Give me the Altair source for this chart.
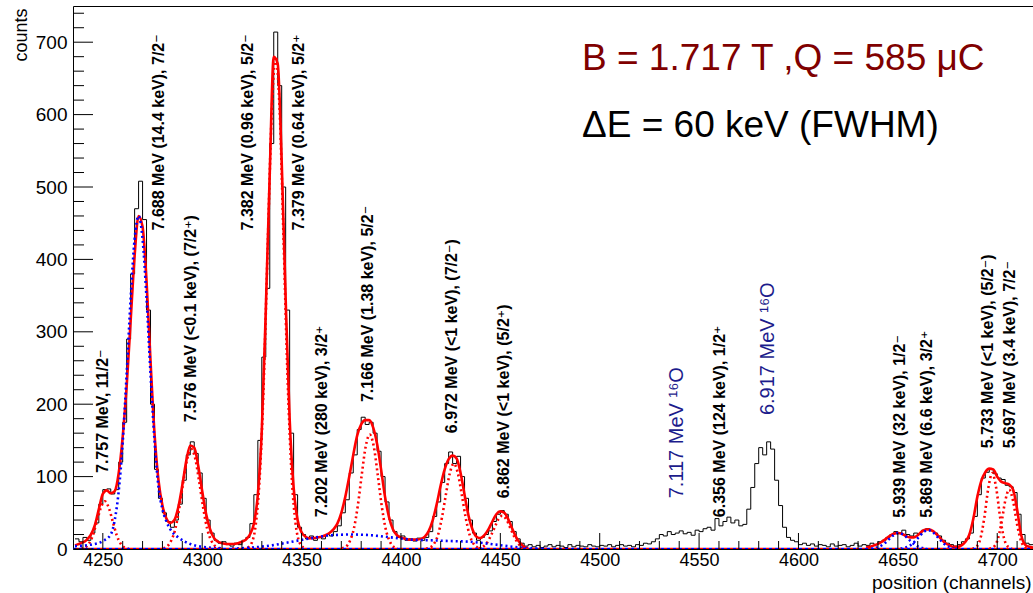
import altair as alt
import pandas as pd

FONT = "Liberation Sans, Arial, Helvetica, DejaVu Sans, sans-serif"
X_DOMAIN = [4235, 4718]
Y_DOMAIN = [0, 750]

# ---------------- histogram (2-channel bins, left edges from 4236) ----------------
hist_first_edge = 4236
hist_bin_width = 2
hist_counts = [
    14, 10, 16, 12, 22, 36, 62, 82, 83, 76,
    82, 120, 175, 290, 380, 470, 508, 455, 330, 200,
    110, 70, 50, 38, 30, 40, 62, 95, 130, 148,
    132, 105, 70, 40, 22, 12, 8, 10, 6, 4,
    8, 6, 12, 16, 35, 75, 150, 265, 360, 560,
    714, 640, 500, 330, 160, 75, 30, 20, 14, 18,
    12, 16, 14, 20, 18, 24, 32, 50, 68, 105,
    130, 165, 182, 172, 175, 160, 135, 100, 65, 40,
    24, 16, 18, 12, 14, 11, 15, 12, 16, 24,
    45, 65, 92, 118, 134, 118, 128, 100, 70, 40,
    22, 12, 16, 20, 25, 38, 48, 53, 48, 38,
    24, 14, 8, 4, 6, 3, 5, 2, 4, 6,
    3, 5, 4, 2, 6, 3, 5, 4, 3, 6,
    4, 3, 5, 4, 6, 3, 5, 6, 4, 5,
    3, 6, 5, 8, 7, 10, 14, 20, 18, 24,
    20, 22, 25, 21, 23, 19, 26, 24, 28, 30,
    26, 42, 32, 38, 44, 36, 40, 32, 34, 55,
    85, 118, 140, 130, 148, 138, 95, 60, 30, 16,
    12, 10, 6, 8, 5, 7, 4, 6, 5, 3,
    7, 4, 5, 6, 3, 5, 8, 4, 6, 5,
    8, 6, 10, 12, 16, 20, 24, 22, 26, 20,
    18, 22, 20, 26, 28, 25, 22, 18, 12, 8,
    6, 4, 6, 10, 14, 22, 45, 75, 98, 106,
    110, 104, 98, 96, 88, 86, 78, 48, 20, 8,
    6,
]

# ---------------- total fit (red solid), 2-channel sampling ----------------
fit_left_start = 4236
fit_left = [
    5, 7, 9, 13, 20, 33, 55, 76, 81, 77,
    80, 105, 155, 225, 315, 405, 460, 445, 370, 260,
    160, 95, 60, 42, 36, 40, 58, 88, 122, 143,
    140, 115, 80, 48, 27, 15, 10, 8, 7, 7,
    7, 8, 10, 13, 20, 35, 75, 165, 330, 520,
    680, 670, 535, 345, 180, 85, 40, 23, 17, 15,
    15, 16, 17, 19, 22, 27, 35, 50, 72, 100,
    130, 157, 172, 178, 178, 168, 145, 110, 72, 44,
    27, 19, 16, 14, 13, 13, 13, 14, 17, 25,
    40, 62, 88, 110, 124, 129, 125, 105, 75, 46,
    27, 17, 15, 19, 27, 38, 48, 52, 50, 41,
    28, 16, 8, 3, 1,
]
fit_right_start = 4634
fit_right = [
    2, 3, 5, 7, 10, 14, 18, 21, 22, 21,
    18, 16, 16, 19, 24, 27, 27, 24, 19, 13,
    8, 5, 3, 3, 5, 10, 20, 42, 72, 94,
    106, 111, 110, 100, 93, 91, 89, 82, 55, 20,
    6, 3, 2,
]
fit_step = 2

# ---------------- fit components (dotted) ----------------
c7757_ch = [4239, 4241, 4243, 4245, 4247, 4249, 4251, 4253, 4255, 4257, 4259, 4261, 4263]
c7757_c = [0.5, 2, 7.2, 19, 38, 57, 66, 57, 38, 19, 7.2, 2, 0.5]

c7688_ch = [4236, 4244, 4250, 4254, 4256, 4258, 4260, 4262, 4264, 4266, 4268, 4270,
            4272, 4274, 4276, 4278, 4280, 4282, 4284, 4288, 4294, 4300, 4310]
c7688_c = [4, 6, 11, 20, 40, 80, 147, 242, 346, 428, 460, 428,
           346, 242, 150, 86, 55, 38, 27, 16, 7, 3, 1]

c7576_ch = [4280.5, 4282.5, 4284.5, 4286.5, 4288.5, 4290.5, 4292.5, 4294.5,
            4296.5, 4298.5, 4300.5, 4302.5, 4304.5, 4306.5, 4308.5]
c7576_c = [1, 4, 12, 28, 57, 93, 125, 138, 125, 93, 57, 28, 12, 4, 1]

c7382_ch = [4323, 4325, 4327, 4329, 4331, 4333, 4335, 4337,
            4339, 4341, 4343, 4345, 4347, 4349, 4351]
c7382_c = [2, 9, 35, 102, 233, 422, 604, 680, 604, 422, 233, 102, 35, 9, 2]

c7202_ch = [4315, 4325, 4335, 4345, 4355, 4365, 4375, 4385, 4395,
            4405, 4415, 4425, 4435, 4445, 4455, 4465, 4475]
c7202_c = [0.5, 2, 5, 10, 15, 19, 20, 19, 16, 13, 12, 11, 10, 7, 3.5, 1, 0]

c7166_ch = [4370.3, 4372.3, 4374.3, 4376.3, 4378.3, 4380.3, 4382.3, 4384.3,
            4386.3, 4388.3, 4390.3, 4392.3, 4394.3, 4396.3, 4398.3]
c7166_c = [1, 3, 11, 28, 60, 103, 142, 158, 142, 103, 60, 28, 11, 3, 1]

c6972_ch = [4412.6, 4414.6, 4416.6, 4418.6, 4420.6, 4422.6, 4424.6, 4426.6,
            4428.6, 4430.6, 4432.6, 4434.6, 4436.6, 4438.6, 4440.6]
c6972_c = [0.5, 2, 7, 19, 43, 75, 105, 118, 105, 75, 43, 19, 7, 2, 0.5]

c6862_ch = [4439, 4441, 4443, 4445, 4447, 4449, 4451, 4453, 4455, 4457, 4459, 4461, 4463]
c6862_c = [0.8, 2.7, 7.5, 17, 29, 41, 46, 41, 29, 17, 7.5, 2.7, 0.8]

c5939_ch = [4636.5, 4638.5, 4640.5, 4642.5, 4644.5, 4646.5, 4648.5, 4650.5,
            4652.5, 4654.5, 4656.5, 4658.5, 4660.5, 4662.5, 4664.5]
c5939_c = [0.4, 1.2, 3, 6.1, 10.7, 16, 20.3, 22, 20.3, 16, 10.7, 6.1, 3, 1.2, 0.4]

c5869_ch = [4651.3, 4653.3, 4655.3, 4657.3, 4659.3, 4661.3, 4663.3, 4665.3,
            4667.3, 4669.3, 4671.3, 4673.3, 4675.3, 4677.3, 4679.3]
c5869_c = [0.5, 1.5, 3.5, 7.2, 12.7, 18.9, 24, 26, 24, 18.9, 12.7, 7.2, 3.5, 1.5, 0.5]

c5733_ch = [4687.5, 4689.5, 4691.5, 4693.5, 4695.5, 4697.5, 4699.5, 4701.5, 4703.5, 4705.5, 4707.5]
c5733_c = [0.4, 3, 14, 43, 84, 105, 84, 43, 14, 3, 0.4]

c5697_ch = [4696, 4698, 4700, 4702, 4704, 4706, 4708, 4710, 4712, 4714, 4716]
c5697_c = [0.3, 2.4, 11, 34, 66, 82, 66, 34, 11, 2.4, 0.3]

components = [
    ("7.757", "#ff0000", c7757_ch, c7757_c),
    ("7.688", "#0000ff", c7688_ch, c7688_c),
    ("7.576", "#ff0000", c7576_ch, c7576_c),
    ("7.382", "#ff0000", c7382_ch, c7382_c),
    ("7.202", "#0000ff", c7202_ch, c7202_c),
    ("7.166", "#ff0000", c7166_ch, c7166_c),
    ("6.972", "#ff0000", c6972_ch, c6972_c),
    ("6.862", "#ff0000", c6862_ch, c6862_c),
    ("5.939", "#0000ff", c5939_ch, c5939_c),
    ("5.869", "#0000ff", c5869_ch, c5869_c),
    ("5.733", "#ff0000", c5733_ch, c5733_c),
    ("5.697", "#ff0000", c5697_ch, c5697_c),
]

baseline_ch = [4235, 4718]
baseline_c = [0, 0]

# ---------------- annotations ----------------
ann_text = [
    "7.757 MeV, 11/2\u207b",
    "7.688 MeV (14.4 keV), 7/2\u207b",
    "7.576 MeV (<0.1 keV), (7/2\u207a)",
    "7.382 MeV (0.96 keV), 5/2\u207b",
    "7.379 MeV (0.64 keV), 5/2\u207a",
    "7.202 MeV (280 keV), 3/2\u207a",
    "7.166 MeV (1.38 keV), 5/2\u207b",
    "6.972 MeV (<1 keV), (7/2\u207b)",
    "6.862 MeV (<1 keV), (5/2\u207a)",
    "6.356 MeV (124 keV), 1/2\u207a",
    "5.939 MeV (32 keV), 1/2\u207b",
    "5.869 MeV (6.6 keV), 3/2\u207a",
    "5.733 MeV (<1 keV), (5/2\u207b)",
    "5.697 MeV (3.4 keV), 7/2\u207b",
]
ann_ch = [4250.1, 4278.3, 4294.4, 4323.0, 4348.7, 4360.3, 4383.4, 4425.7, 4451.8,
          4560.5, 4651.1, 4664.7, 4695.4, 4706.4]
ann_c = [105, 440, 175, 440, 440, 44, 203, 160, 70, 44, 43, 43, 139, 139]

o16_text = ["7.117 MeV \u00b9\u2076O", "6.917 MeV \u00b9\u2076O"]
o16_ch = [4538.9, 4584.7]
o16_c = [70, 185]

info_text = ["B = 1.717 T ,Q = 585 \u03bcC", "\u0394E = 60 keV (FWHM)"]
info_color = ["#800000", "#000000"]
info_ch = [4491.1, 4491.1]
info_c = [662, 569]

x_major = [4250, 4300, 4350, 4400, 4450, 4500, 4550, 4600, 4650, 4700]
x_minor = [4240, 4260, 4270, 4280, 4290, 4310, 4320, 4330, 4340, 4360, 4370, 4380, 4390,
           4410, 4420, 4430, 4440, 4460, 4470, 4480, 4490, 4510, 4520, 4530, 4540,
           4560, 4570, 4580, 4590, 4610, 4620, 4630, 4640, 4660, 4670, 4680, 4690, 4710]
y_major = [0, 100, 200, 300, 400, 500, 600, 700]
y_minor = [20, 40, 60, 80, 120, 140, 160, 180, 220, 240, 260, 280, 320, 340, 360, 380,
           420, 440, 460, 480, 520, 540, 560, 580, 620, 640, 660, 680, 720, 740]

# ---------------- data frames ----------------
hist_edges = [hist_first_edge + hist_bin_width * i for i in range(len(hist_counts))]
hist_df = pd.DataFrame({
    "ch": hist_edges + [hist_edges[-1] + hist_bin_width],
    "c": hist_counts + [hist_counts[-1]],
})

fit_rows = []
for seg, start, vals in [("L", fit_left_start, fit_left), ("R", fit_right_start, fit_right)]:
    for i, v in enumerate(vals):
        fit_rows.append({"seg": seg, "ch": start + fit_step * i, "c": v})
fit_df = pd.DataFrame(fit_rows)

comp_rows = []
for name, col, chs, cs in components:
    assert len(chs) == len(cs), name
    for a, b in zip(chs, cs):
        comp_rows.append({"comp": name, "col": col, "ch": a, "c": b})
comp_df = pd.DataFrame(comp_rows)
red_df = comp_df[comp_df["col"] == "#ff0000"]
blue_df = comp_df[comp_df["col"] == "#0000ff"]

base_df = pd.DataFrame({"ch": baseline_ch, "c": baseline_c})

# ---------------- encodings ----------------
x_axis = alt.Axis(values=x_major, format="d", labelFont=FONT, labelFontSize=18,
                  labelColor="black", labelPadding=2, ticks=False, domain=False,
                  grid=False, labelOverlap=False, labelFlush=False,
                  title="position (channels)", titleFont=FONT, titleFontSize=19,
                  titleFontWeight="normal", titleColor="black", titleX=958, titleY=39,
                  titleAlign="right", titleAnchor="end", titleBaseline="alphabetic")
y_axis = alt.Axis(values=y_major, format="d", labelFont=FONT, labelFontSize=19,
                  labelColor="black", labelPadding=6, ticks=False, domain=False,
                  grid=False, labelOverlap=False, labelFlush=False,
                  title="counts", titleFont=FONT, titleFontSize=18,
                  titleFontWeight="normal", titleColor="black", titleAngle=270,
                  titleAlign="right", titleAnchor="end", titleBaseline="middle",
                  titleX=-52, titleY=2)


def xenc():
    return alt.X("ch:Q", scale=alt.Scale(domain=X_DOMAIN, nice=False, zero=False), axis=x_axis)


def yenc():
    return alt.Y("c:Q", scale=alt.Scale(domain=Y_DOMAIN, nice=False, zero=False), axis=y_axis)


hist = alt.Chart(hist_df).mark_line(interpolate="step-after", color="black",
                                    strokeWidth=1, clip=True).encode(x=xenc(), y=yenc())

fit = alt.Chart(fit_df).mark_line(interpolate="monotone", color="#ff0000",
                                  strokeWidth=2.6, clip=True).encode(
    x=xenc(), y=yenc(), detail="seg:N")

red_comp = alt.Chart(red_df).mark_line(interpolate="monotone", color="#ff0000",
                                       strokeWidth=2.6, strokeDash=[2, 3], clip=True).encode(
    x=xenc(), y=yenc(), detail="comp:N")
blue_comp = alt.Chart(blue_df).mark_line(interpolate="monotone", color="#0000ff",
                                         strokeWidth=2.6, strokeDash=[2, 3], clip=True).encode(
    x=xenc(), y=yenc(), detail="comp:N")

base_blue = alt.Chart(base_df).mark_line(color="#0000ff", strokeWidth=2.6,
                                         strokeDash=[3, 3], clip=True).encode(x=xenc(), y=yenc())
base_red = alt.Chart(base_df).mark_line(color="#ff0000", strokeWidth=2.6,
                                        strokeDash=[3, 3], strokeDashOffset=3,
                                        clip=True).encode(x=xenc(), y=yenc())

ytick_major = alt.Chart(pd.DataFrame({"c": y_major})).mark_rule(color="black", strokeWidth=1).encode(
    y=yenc(), x=alt.value(0), x2=alt.value(20))
ytick_minor = alt.Chart(pd.DataFrame({"c": y_minor})).mark_rule(color="black", strokeWidth=1).encode(
    y=yenc(), x=alt.value(0), x2=alt.value(11))
xtick_major = alt.Chart(pd.DataFrame({"ch": x_major})).mark_rule(color="black", strokeWidth=1).encode(
    x=xenc(), y=alt.value(543), y2=alt.value(527))
xtick_minor = alt.Chart(pd.DataFrame({"ch": x_minor})).mark_rule(color="black", strokeWidth=1).encode(
    x=xenc(), y=alt.value(543), y2=alt.value(535))

ann = alt.Chart(pd.DataFrame({"ch": ann_ch, "c": ann_c, "t": ann_text})).mark_text(
    angle=270, align="left", baseline="middle", font=FONT, fontSize=16,
    fontWeight="bold", color="black").encode(x=xenc(), y=yenc(), text="t:N")

o16 = alt.Chart(pd.DataFrame({"ch": o16_ch, "c": o16_c, "t": o16_text})).mark_text(
    angle=270, align="left", baseline="middle", font=FONT, fontSize=20,
    fontWeight="normal", color="#1c1c8c").encode(x=xenc(), y=yenc(), text="t:N")

info = alt.Chart(pd.DataFrame({"ch": info_ch, "c": info_c, "t": info_text,
                               "col": info_color})).mark_text(
    align="left", baseline="alphabetic", font=FONT, fontSize=37).encode(
    x=xenc(), y=yenc(), text="t:N", color=alt.Color("col:N", scale=None))

chart = alt.layer(
    hist, fit, red_comp, blue_comp, base_blue, base_red,
    ytick_major, ytick_minor, xtick_major, xtick_minor,
    ann, o16, info,
).properties(
    width=960, height=543,
    autosize=alt.AutoSizeParams(type="none"),
    padding={"left": 73, "top": 6, "right": 0, "bottom": 44},
    background="white",
).configure_view(stroke="black", strokeWidth=1)

chart.save("out.html", embed_options={"renderer": "svg", "actions": False})
